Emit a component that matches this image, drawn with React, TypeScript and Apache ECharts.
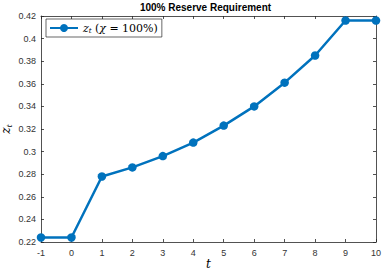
import React, { useEffect, useRef } from "react";
import * as echarts from "echarts";

const tValues = [-1, 0, 1, 2, 3, 4, 5, 6, 7, 8, 9, 10];
const zValues = [0.224, 0.224, 0.278, 0.286, 0.296, 0.308, 0.323, 0.340, 0.361, 0.385, 0.416, 0.416];
const titleText = "100% Reserve Requirement";

export default function App() {
  const ref = useRef<HTMLDivElement>(null);
  useEffect(() => {
    if (!ref.current) return;
    const chart = echarts.init(ref.current, undefined, { renderer: "svg" });
    const axisColor = "#262626";
    const labelStyle = { color: "#333", fontSize: 9, fontFamily: "Liberation Sans, Arial, sans-serif" };
    const fmt = (v: number) => parseFloat(v.toFixed(2)).toString();
    const serif = "DejaVu Serif, serif";
    chart.setOption({
      animation: false,
      backgroundColor: "#fff",
      graphic: [
        {
          type: "text",
          x: 205.5,
          y: 7,
          style: {
            text: titleText,
            align: "center",
            verticalAlign: "middle",
            fontSize: 10,
            fontWeight: "bold",
            fill: "#000",
            fontFamily: "Liberation Sans, Arial, sans-serif",
          },
        },
      ],
      grid: { left: 41, right: 6, top: 16, bottom: 31, containLabel: false, outerBoundsMode: "none" },
      legend: {
        left: 46,
        top: 19,
        orient: "vertical",
        backgroundColor: "#fff",
        borderColor: axisColor,
        borderWidth: 0.7,
        borderRadius: 0,
        padding: [3, 4, 3, 3],
        itemWidth: 28,
        itemHeight: 10,
        itemGap: 0,
        formatter: () => "{i|z}{s|t} {n|(}{i|χ}{n| = 100%)}",
        textStyle: {
          rich: {
            i: { fontFamily: serif, fontStyle: "italic", fontSize: 11, color: "#000" },
            s: { fontFamily: serif, fontStyle: "italic", fontSize: 7, color: "#000", verticalAlign: "bottom", padding: [5, 0, 0, 0] },
            n: { fontFamily: serif, fontSize: 11, color: "#000" },
          },
        },
      },
      xAxis: [
        {
          type: "value",
          min: -1,
          max: 10,
          interval: 1,
          name: "t",
          nameLocation: "middle",
          nameGap: 16,
          nameMoveOverlap: false,
          nameTextStyle: { fontFamily: serif, fontStyle: "italic", fontSize: 12, color: "#000" },
          axisLine: { onZero: false, lineStyle: { color: axisColor, width: 0.8 } },
          axisTick: { inside: true, length: 3, lineStyle: { color: axisColor, width: 0.8 } },
          axisLabel: { ...labelStyle, margin: 6 },
          splitLine: { show: false },
        },
        {
          type: "value",
          position: "top",
          min: -1,
          max: 10,
          interval: 1,
          axisLine: { onZero: false, lineStyle: { color: axisColor, width: 0.8 } },
          axisTick: { inside: true, length: 3, lineStyle: { color: axisColor, width: 0.8 } },
          axisLabel: { show: false },
          splitLine: { show: false },
        },
      ],
      yAxis: [
        {
          type: "value",
          min: 0.22,
          max: 0.42,
          interval: 0.02,
          name: "{i|z}{s|t}",
          nameLocation: "middle",
          nameGap: 28,
          nameMoveOverlap: false,
          nameRotate: 90,
          nameTextStyle: {
            rich: {
              i: { fontFamily: serif, fontStyle: "italic", fontSize: 12, color: "#000" },
              s: { fontFamily: serif, fontStyle: "italic", fontSize: 8, color: "#000", verticalAlign: "bottom", padding: [6, 0, 0, 0] },
            },
          },
          axisLine: { show: true, onZero: false, lineStyle: { color: axisColor, width: 0.8 } },
          axisTick: { show: true, inside: true, length: 3, lineStyle: { color: axisColor, width: 0.8 } },
          axisLabel: { ...labelStyle, margin: 5, formatter: fmt },
          splitLine: { show: false },
        },
        {
          type: "value",
          position: "right",
          min: 0.22,
          max: 0.42,
          interval: 0.02,
          axisLine: { show: true, onZero: false, lineStyle: { color: axisColor, width: 0.8 } },
          axisTick: { show: true, inside: true, length: 3, lineStyle: { color: axisColor, width: 0.8 } },
          axisLabel: { show: false },
          splitLine: { show: false },
        },
      ],
      series: [
        {
          name: "z",
          type: "line",
          xAxisIndex: 0,
          yAxisIndex: 0,
          data: tValues.map((t, i) => [t, zValues[i]]),
          symbol: "circle",
          symbolSize: 8.5,
          itemStyle: { color: "#0072BD" },
          lineStyle: { color: "#0072BD", width: 2.5 },
        },
      ],
    });
    return () => chart.dispose();
  }, []);
  return <div ref={ref} style={{ width: 382, height: 273, position: "absolute", left: 0, top: 0 }} />;
}
